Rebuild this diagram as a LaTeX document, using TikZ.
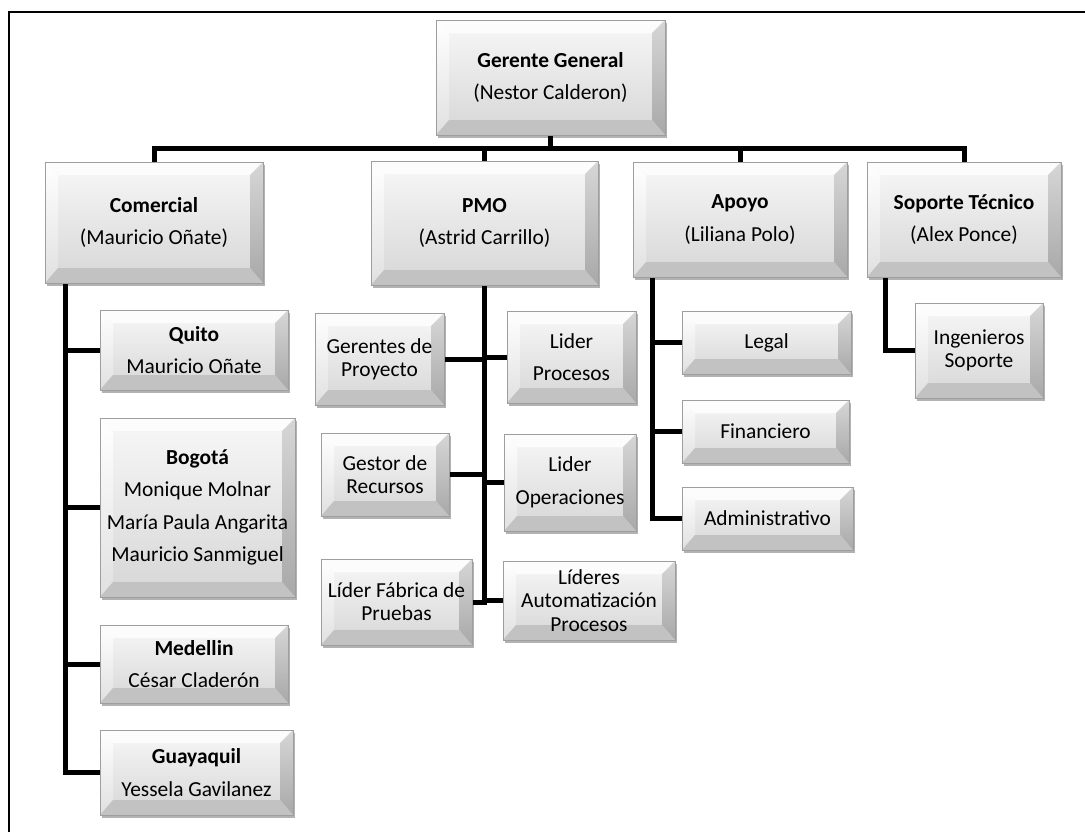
\documentclass[tikz,border=0pt]{standalone}
\usepackage{fontspec}
\setmainfont{Carlito}
\usetikzlibrary{calc,shadows,backgrounds}
\tikzset{
  bevelface/.style={rectangle, inner sep=0pt, align=center, draw=black!38, line width=0.5pt,
    top color=black!3, bottom color=black!16,
    drop shadow={shadow xshift=1.2pt, shadow yshift=-1.6pt, opacity=0.3, fill=black},
    path picture={
      \coordinate (bbsw) at (path picture bounding box.south west);
      \coordinate (bbne) at (path picture bounding box.north east);
      \coordinate (bbnw) at (path picture bounding box.north west);
      \coordinate (bbse) at (path picture bounding box.south east);
      % top bevel
      \fill[black!1] (bbnw) -- (bbne) -- ($(bbne)+(-6.5pt,-6.5pt)$) -- ($(bbnw)+(6.5pt,-6.5pt)$) -- cycle;
      % left bevel
      \shade[top color=white, bottom color=black!12]
        (bbnw) -- ($(bbnw)+(6.5pt,-6.5pt)$) -- ($(bbsw)+(6.5pt,7.5pt)$) -- (bbsw) -- cycle;
      % right bevel
      \shade[top color=black!16, bottom color=black!34]
        (bbne) -- (bbse) -- ($(bbse)+(-6.5pt,7.5pt)$) -- ($(bbne)+(-6.5pt,-6.5pt)$) -- cycle;
      % bottom bevel
      \fill[black!24] (bbsw) -- (bbse) -- ($(bbse)+(-6.5pt,7.5pt)$) -- ($(bbsw)+(6.5pt,7.5pt)$) -- cycle;
    }},
  bevelbox/.style 2 args={bevelface, minimum width=#1*0.5pt, minimum height=#2*0.5pt},
  wide/.style={font=\fontsize{10.7}{16.25}\selectfont},
  tight/.style={font=\fontsize{10.7}{11.6}\selectfont},
  conn/.style={line width=2.5pt, line join=miter, line cap=rect},
  frameline/.style={line width=1.1pt}
}
\begin{document}
\begin{tikzpicture}[x=0.5pt,y=-0.5pt]
\useasboundingbox (0,0) rectangle (1085,832);

% top level
\node[bevelbox={229}{115}, wide] (gg) at (550.5,77.5) {\textbf{Gerente General}\\(Nestor Calderon)};

% departments
\node[bevelbox={218}{121}, wide] (com) at (154,222.5) {\textbf{Comercial}\\(Mauricio Oñate)};
\node[bevelbox={227}{124}, wide] (pmo) at (484.5,223) {\textbf{PMO}\\(Astrid Carrillo)};
\node[bevelbox={214}{115}, wide] (apo) at (740,219.5) {\textbf{Apoyo}\\(Liliana Polo)};
\node[bevelbox={194}{115}, wide] (sop) at (964,219.5) {\textbf{Soporte Técnico}\\(Alex Ponce)};

% Comercial offices
\node[bevelbox={188}{80}, wide] (quito) at (194,350) {\textbf{Quito}\\Mauricio Oñate};
\node[bevelbox={195}{179}, wide] (bog) at (197.5,507.5) {\textbf{Bogotá}\\Monique Molnar\\María Paula Angarita\\Mauricio Sanmiguel};
\node[bevelbox={188}{78}, wide] (med) at (194,664) {\textbf{Medellin}\\César Claderón};
\node[bevelbox={193}{85}, wide] (guay) at (196.5,772.5) {\textbf{Guayaquil}\\Yessela Gavilanez};

% PMO roles
\node[bevelbox={129}{92}, tight] (gp) at (379.5,359) {Gerentes de\\Proyecto};
\node[bevelbox={129}{92}, wide] (lp) at (571.5,357) {Lider\\Procesos};
\node[bevelbox={128}{83}, tight] (gr) at (385,474.5) {Gestor de\\Recursos};
\node[bevelbox={132}{97}, wide] (lo) at (570,482.5) {Lider\\Operaciones};
\node[bevelbox={151}{86}, tight] (lf) at (396.5,602) {Líder Fábrica de\\Pruebas};
\node[bevelbox={172}{79}, tight] (la) at (589,600.5) {Líderes\\Automatización\\Procesos};

% Apoyo areas
\node[bevelbox={169}{63}, wide] (legal) at (766.5,342.5) {Legal};
\node[bevelbox={167}{63}, wide] (fin) at (765.5,431.5) {Financiero};
\node[bevelbox={171}{63}, wide] (adm) at (767.5,518.5) {Administrativo};

% Soporte team
\node[bevelbox={128}{95}, tight] (ing) at (979,350.5) {Ingenieros\\Soporte};

\begin{scope}[on background layer]
  % page frame
  \draw[frameline] (9,832) -- (9,12) -- (1085,12);

  % bus under the general manager
  \coordinate (bus) at (0,148);
  \foreach \d in {com,pmo,apo,sop}
    \draw[conn] (gg.south) -- (gg.south |- bus) -| (\d.north);

  % Comercial spine
  \coordinate (comsp) at ($(com.south west)+(10.5pt,0)$);
  \foreach \c in {quito,bog,med,guay}
    \draw[conn] (comsp) |- (\c.west);

  % PMO spine
  \foreach \c in {gp,gr,lf}
    \draw[conn] (pmo.south) |- (\c.east);
  \foreach \c in {lp,lo,la}
    \draw[conn] (pmo.south) |- (\c.west);

  % Apoyo spine
  \coordinate (aposp) at ($(apo.south west)+(10pt,0)$);
  \foreach \c in {legal,fin,adm}
    \draw[conn] (aposp) |- (\c.west);

  % Soporte spine
  \coordinate (sopsp) at ($(sop.south west)+(9.5pt,0)$);
  \draw[conn] (sopsp) |- (ing.west);
\end{scope}
\end{tikzpicture}
\end{document}
